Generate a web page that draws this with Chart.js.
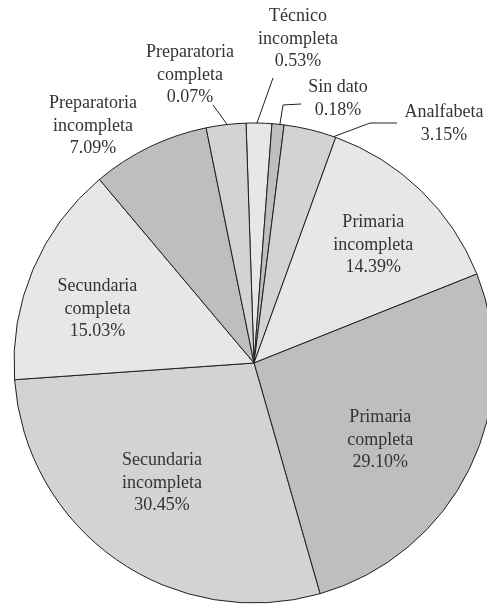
<!DOCTYPE html>
<html>
<head>
<meta charset="utf-8">
<script src="https://cdn.jsdelivr.net/npm/chart.js@4/dist/chart.umd.min.js"></script>
<style>
  html, body { margin: 0; padding: 0; background: #fff; overflow: hidden; }
  canvas { display: block; }
</style>
</head>
<body>
<canvas id="pie" width="508" height="604"></canvas>
<script>
// slices listed clockwise, starting just left of 12 o'clock
const categories = [
    ['Técnico', 'incompleta'],
    ['Sin dato'],
    ['Analfabeta'],
    ['Primaria', 'incompleta'],
    ['Primaria', 'completa'],
    ['Secundaria', 'incompleta'],
    ['Secundaria', 'completa'],
    ['Preparatoria', 'incompleta'],
    ['Preparatoria', 'completa']
]

// percentages as printed on the chart
const printed = ['0.53%', '0.18%', '3.15%', '14.39%', '29.10%', '30.45%', '15.03%', '7.09%', '0.07%']

// slice sizes as drawn in the picture (% of the circle)
const sliceShare = [1.72, 0.81, 3.53, 13.42, 26.61, 28.33, 14.97, 7.94, 2.67]

const fills = ['#e6e7e8', '#bcbec0', '#d1d3d4', '#e6e7e8', '#bcbec0', '#d1d3d4', '#e6e7e8', '#bcbec0', '#d1d3d4']

// inside labels: polar placement (angle shift in degrees, radius fraction)
// outside labels: text block offset from centre + leader polyline
const place = [
    { text: [44, -324], lead: { frac: 0.42, pts: [[19, -285]] } },
    { text: [84, -264], lead: { frac: 0.65, pts: [[29, -258], [47, -259]] } },
    { text: [190, -239], lead: { frac: 0.96, pts: [[116, -240], [143, -240]] } },
    { da: 1.2, r: 0.70 },
    { da: 5.3, r: 0.617 },
    { da: 2.5, r: 0.63 },
    { da: -4, r: 0.69 },
    { text: [-161, -237] },
    { text: [-64, -288], lead: { frac: 0.53, pts: [[-41, -258]] } }
]

const lineH = 22.5

const labelPlugin = {
    id: 'sliceLabels',
    afterDraw(chart) {
        const ctx = chart.ctx
        const meta = chart.getDatasetMeta(0)
        ctx.save()
        ctx.font = '18px "Liberation Serif", "Times New Roman", serif'
        ctx.fillStyle = '#333'
        ctx.textAlign = 'center'
        ctx.textBaseline = 'middle'
        ctx.strokeStyle = '#231f20'
        ctx.lineWidth = 1

        meta.data.forEach((arc, i) => {
            const p = arc.getProps(['x', 'y', 'startAngle', 'endAngle', 'outerRadius'], true)
            const lines = categories[i].concat([printed[i]])
            const pl = place[i]
            let cx, cy
            if (pl.text) {
                cx = p.x + pl.text[0]
                cy = p.y + pl.text[1]
                if (pl.lead) {
                    const a = p.startAngle + (p.endAngle - p.startAngle) * pl.lead.frac
                    ctx.beginPath()
                    ctx.moveTo(p.x + p.outerRadius * Math.cos(a), p.y + p.outerRadius * Math.sin(a))
                    pl.lead.pts.forEach(q => ctx.lineTo(p.x + q[0], p.y + q[1]))
                    ctx.stroke()
                }
            } else {
                const a = (p.startAngle + p.endAngle) / 2 + pl.da * Math.PI / 180
                cx = p.x + p.outerRadius * pl.r * Math.cos(a)
                cy = p.y + p.outerRadius * pl.r * Math.sin(a)
            }
            const top = cy - (lines.length - 1) * lineH / 2
            lines.forEach((t, k) => ctx.fillText(t, cx, top + k * lineH))
        })
        ctx.restore()
    }
}

const ctx = document.getElementById('pie')
const myChart = new Chart(ctx, {
    type: 'pie',
    data: {
        labels: categories.map(c => c.join(' ')),
        datasets: [{
            data: sliceShare,
            backgroundColor: fills,
            borderColor: '#231f20',
            borderWidth: 1
        }]
    },
    options: {
        responsive: false,
        animation: false,
        rotation: -1.9,
        radius: 240,
        layout: { padding: { left: 14, right: 14, top: 123, bottom: 1 } },
        plugins: {
            legend: { display: false },
            tooltip: { enabled: false }
        }
    },
    plugins: [labelPlugin]
})
</script>
</body>
</html>
